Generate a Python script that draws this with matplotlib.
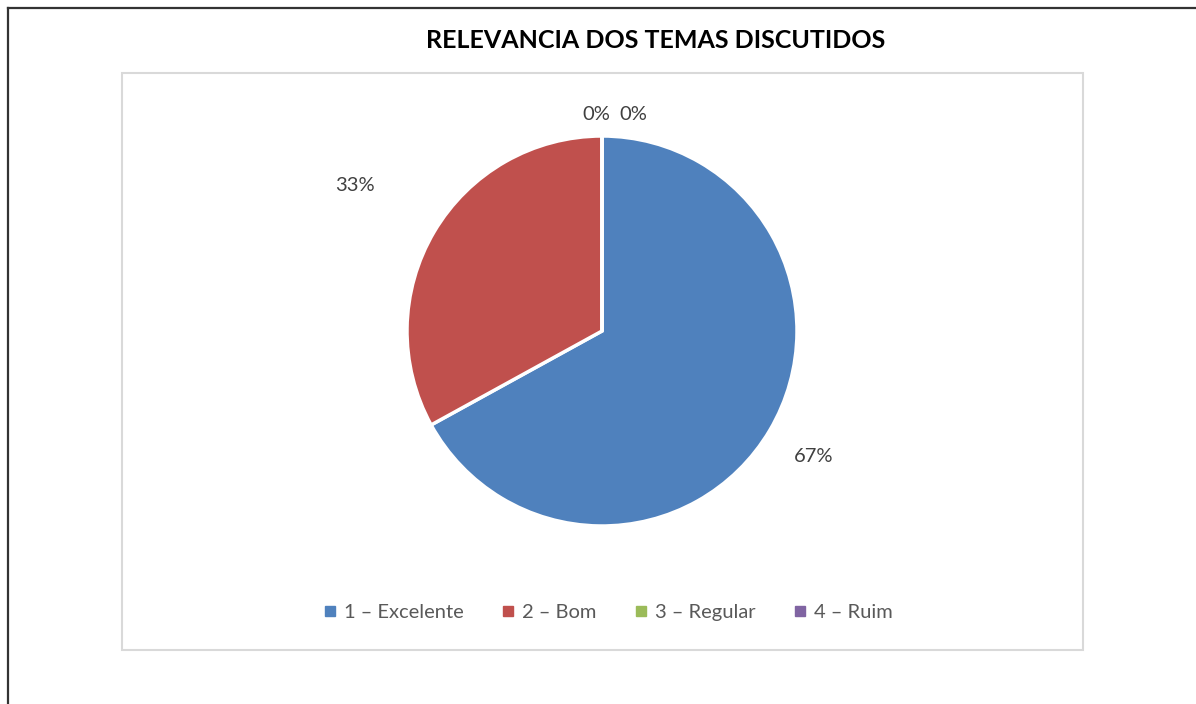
import numpy as np
import matplotlib
matplotlib.use("Agg")
import matplotlib.pyplot as plt
from matplotlib.lines import Line2D
from matplotlib.patches import Rectangle

categories = ["1 – Excelente", "2 – Bom", "3 – Regular", "4 – Ruim"]
values = [67, 33, 0, 0]
pct_labels = ["67%", "33%", "0%", "0%"]
colors = ["#4F81BD", "#C0504D", "#9BBB59", "#8064A2"]
title = "RELEVANCIA DOS TEMAS DISCUTIDOS"

plt.rcParams['font.family'] = ['Lato', 'DejaVu Sans']

W, H = 1196, 704
fig = plt.figure(figsize=(W / 100, H / 100), dpi=100)
fig.patch.set_facecolor("white")

# outer border (top and left)
fig.add_artist(Line2D([8 / W, 1.0], [1 - 8 / H, 1 - 8 / H], color="#333333", lw=1.6, transform=fig.transFigure))
fig.add_artist(Line2D([8 / W, 8 / W], [0, 1 - 8 / H], color="#333333", lw=1.6, transform=fig.transFigure))

# inner chart area
fig.add_artist(Rectangle((122 / W, 1 - 650 / H), (1083 - 122) / W, (650 - 73) / H,
                         transform=fig.transFigure, fill=False, edgecolor="#d9d9d9", lw=1.5))

fig.text(656 / W, 1 - 40 / H, title, ha="center", va="center", fontsize=18,
         fontweight="bold", color="black")

cx, cy, r = 602, 331, 195
ax = fig.add_axes([(cx - r) / W, 1 - (cy + r) / H, 2 * r / W, 2 * r / H])
ax.axis("off")

wedges, _ = ax.pie(values, colors=colors, startangle=90, counterclock=False, radius=1,
                   wedgeprops=dict(edgecolor="white", linewidth=2.5))
ax.set_xlim(-1, 1)
ax.set_ylim(-1, 1)
ax.set_aspect("equal")

# label placement per slice (distance in radii, extra x offset)
dist = [1.26, 1.47, 1.11, 1.11]
xoff = [0.0, 0.0, -0.03, 0.16]
for w, lab, d, xo in zip(wedges, pct_labels, dist, xoff):
    ang = np.deg2rad((w.theta1 + w.theta2) / 2)
    x = d * np.cos(ang) + xo
    y = d * np.sin(ang)
    ax.text(x, y, lab, ha="center", va="center", fontsize=14.5, color="#404040", clip_on=False)

handles = [Line2D([], [], marker="s", linestyle="none", markersize=6.5, markerfacecolor=c,
                  markeredgecolor=c) for c in colors]
fig.legend(handles, categories, loc="center", bbox_to_anchor=(608 / W, 1 - 612 / H), ncol=4,
           frameon=False, fontsize=14.5, labelcolor="#595959", handlelength=0.6,
           handletextpad=0.4, columnspacing=1.9)

fig.savefig("out.png", dpi=100, facecolor="white")
